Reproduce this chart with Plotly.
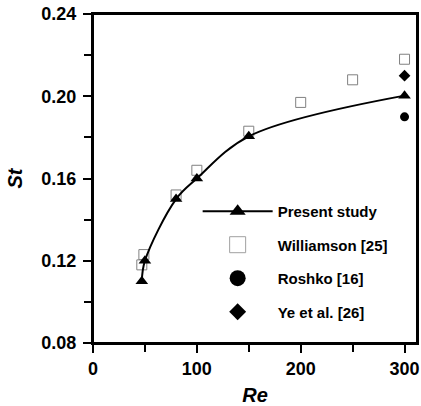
import plotly.graph_objects as go

# Data
present_re = [47, 50, 80, 100, 150, 300]
present_st = [0.110, 0.120, 0.150, 0.160, 0.1805, 0.2003]
williamson_re = [47, 49, 80, 100, 150, 200, 250, 300]
williamson_st = [0.118, 0.123, 0.152, 0.164, 0.183, 0.197, 0.208, 0.218]
roshko_re = [300]
roshko_st = [0.190]
ye_re = [300]
ye_st = [0.210]

FONT = "Arial, Liberation Sans, sans-serif"

fig = go.Figure()

# Data traces (no legend)
fig.add_trace(go.Scatter(x=williamson_re, y=williamson_st, mode="markers",
                         marker=dict(symbol="square-open", size=10, color="#808080", line=dict(width=1)),
                         showlegend=False))
fig.add_trace(go.Scatter(x=present_re, y=present_st, mode="lines+markers",
                         line=dict(shape="spline", smoothing=1.0, color="black", width=2),
                         marker=dict(symbol="triangle-up", size=11, color="black"),
                         showlegend=False))
fig.add_trace(go.Scatter(x=roshko_re, y=roshko_st, mode="markers",
                         marker=dict(symbol="circle", size=9, color="black"),
                         showlegend=False))
fig.add_trace(go.Scatter(x=ye_re, y=ye_st, mode="markers",
                         marker=dict(symbol="diamond", size=9, color="black"),
                         showlegend=False))

# Legend entries
fig.add_trace(go.Scatter(x=[None], y=[None], mode="lines+markers", name="Present study", legendgroup="a",
                         line=dict(color="black", width=2),
                         marker=dict(symbol="triangle-up", size=14, color="black")))
fig.add_trace(go.Scatter(x=[None], y=[None], mode="markers", name="Williamson [25]", legendgroup="b",
                         marker=dict(symbol="square-open", size=16, color="#a0a0a0", line=dict(width=1))))
fig.add_trace(go.Scatter(x=[None], y=[None], mode="markers", name="Roshko [16]", legendgroup="c",
                         marker=dict(symbol="circle", size=16, color="black")))
fig.add_trace(go.Scatter(x=[None], y=[None], mode="markers", name="Ye et al. [26]", legendgroup="d",
                         marker=dict(symbol="diamond", size=13, color="black")))

axis_common = dict(
    showline=True, linecolor="black", linewidth=2, mirror=True,
    ticks="outside", ticklen=8, tickwidth=2, tickcolor="black",
    showgrid=False, zeroline=False, ticklabeloverflow="allow",
    tickfont=dict(family=FONT, size=18, color="black", weight="bold"),
)

fig.update_layout(
    width=421, height=406,
    margin=dict(l=93, r=4, t=14, b=63, autoexpand=False),
    paper_bgcolor="white", plot_bgcolor="white",
    font=dict(family=FONT, color="black"),
    xaxis=dict(range=[0, 312], tickvals=[0, 100, 200, 300], ticklabelstandoff=0,
               minor=dict(tickvals=[50, 150, 250], ticks="outside", ticklen=7, tickwidth=2, tickcolor="black"),
               title=dict(text="<i>Re</i>", standoff=13,
                          font=dict(family=FONT, size=20, color="black", weight="bold")),
               **axis_common),
    yaxis=dict(range=[0.08, 0.24], tickvals=[0.08, 0.12, 0.16, 0.20, 0.24], tickformat=".2f",
               ticklabelstandoff=3,
               minor=dict(tickvals=[0.10, 0.14, 0.18, 0.22], ticks="outside", ticklen=7, tickwidth=2, tickcolor="black"),
               title=dict(text="<i>St</i>", standoff=13,
                          font=dict(family=FONT, size=20, color="black", weight="bold")),
               **axis_common),
    shapes=[dict(type="rect", xref="paper", yref="paper", x0=0, y0=0, x1=1, y1=1,
                 line=dict(color="black", width=2), fillcolor="rgba(0,0,0,0)", layer="above")],
    legend=dict(x=0.323, y=0.45, xanchor="left", yanchor="top",
                bgcolor="rgba(0,0,0,0)", borderwidth=0,
                font=dict(family=FONT, size=15, color="black", weight="bold"),
                itemwidth=70, tracegroupgap=11, itemsizing="trace"),
)

fig.write_html(
    "out.html",
    config={"displayModeBar": False},
    post_script="document.body.style.margin='0';document.body.style.overflow='hidden';",
)
